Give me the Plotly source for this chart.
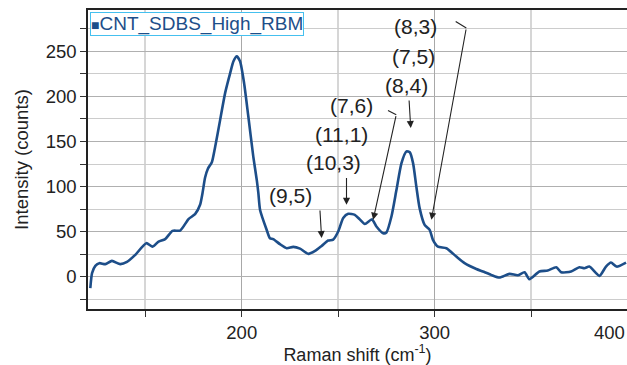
import plotly.graph_objects as go

# Raman spectrum (RBM region)
raman_shift = [121.5, 122.4, 124.1, 126.2, 129.3, 132.7, 137.0, 140.5, 144.8, 150.5,
               153.8, 156.9, 160.3, 164.1, 168.1, 172.4, 175.8, 178.4, 179.6, 181.0,
               182.5, 184.5, 186.2, 188.8, 191.4, 194.0, 195.7, 197.4, 199.1, 201.2,
               203.4, 206.0, 207.8, 208.6, 209.5, 212.9, 214.6, 216.3, 219.8, 223.3,
               226.7, 230.2, 234.5, 238.0, 241.4, 244.8, 247.4, 250.0, 252.6, 255.2,
               258.6, 261.2, 263.8, 267.5, 269.8, 273.3, 275.0, 277.6, 280.2, 282.8,
               285.4, 287.1, 288.8, 290.5, 292.2, 294.8, 297.4, 299.1, 301.7, 306.1,
               311.2, 315.5, 321.6, 325.0, 329.3, 333.6, 338.8, 343.1, 346.6, 349.1,
               354.3, 358.6, 363.0, 365.6, 370.7, 375.0, 377.6, 380.2, 385.4, 388.8,
               391.4, 394.3, 399.2]
intensity = [-12.9, 3.8, 11.9, 14.9, 13.8, 17.4, 13.8, 16.3, 24.1, 37.1,
             33.3, 38.9, 41.6, 50.8, 51.1, 63.8, 69.3, 79.7, 92.0, 110.0,
             120.0, 127.0, 144.0, 174.0, 204.0, 226.0, 239.0, 244.5, 239.0, 215.0,
             178.0, 133.0, 107.0, 93.0, 74.0, 52.0, 42.6, 41.6, 36.0, 31.5,
             33.0, 31.0, 25.2, 28.5, 34.0, 40.0, 41.0, 50.0, 65.0, 69.7,
             68.6, 63.5, 58.4, 63.5, 55.6, 48.2, 49.0, 66.7, 96.3, 126.0,
             139.0, 138.0, 126.0, 100.0, 76.0, 57.4, 51.9, 40.8, 33.3, 31.5,
             22.2, 14.9, 8.4, 5.6, 1.9, -1.1, 3.0, 1.5, 4.8, -2.9,
             5.6, 6.7, 10.4, 4.8, 5.6, 10.4, 9.3, 11.1, 0.8, 11.1,
             15.6, 11.1, 15.6]

series_name = "CNT_SDBS_High_RBM"

# (n,m) chirality labels: text position
labels = ["(9,5)", "(10,3)", "(11,1)", "(7,6)", "(8,4)", "(7,5)", "(8,3)"]
label_x = [225.5, 247.8, 251.9, 257.1, 285.5, 289.1, 290.2]
label_y = [89.7, 126.3, 157.4, 189.7, 211.9, 244.1, 277.4]

# arrows: tail (ax, ay) -> head (hx, hy)
arrow_ax = [240.5, 254.3, 280.1, 286.7, 316.4]
arrow_ay = [75.0, 111.0, 179.7, 197.1, 276.0]
arrow_hx = [241.4, 254.3, 268.1, 287.6, 298.3]
arrow_hy = [42.7, 79.7, 63.0, 164.9, 63.0]

# short leader hooks leading into the long arrows
hook_x0 = [275.8, 310.9]
hook_y0 = [184.4, 283.3]
hook_x1 = [280.1, 316.4]
hook_y1 = [179.7, 276.0]

# x tick labels; the last one sits flush with the right edge
x_ticks = [200, 300, 400]

LINE_COLOR = "#1d4e89"
TEXT_COLOR = "#222222"
FONT = "Liberation Sans, Arial, sans-serif"

fig = go.Figure()
fig.add_trace(go.Scatter(
    x=raman_shift, y=intensity, mode="lines", name=series_name,
    line=dict(color=LINE_COLOR, width=2.6, shape="spline", smoothing=0.6),
    showlegend=False,
))

annotations = []
for t, x, y in zip(labels, label_x, label_y):
    annotations.append(dict(x=x, y=y, xref="x", yref="y", text=t, showarrow=False,
                            font=dict(size=21, color=TEXT_COLOR, family=FONT)))
for ax, ay, hx, hy in zip(arrow_ax, arrow_ay, arrow_hx, arrow_hy):
    annotations.append(dict(x=hx, y=hy, xref="x", yref="y", ax=ax, ay=ay,
                            axref="x", ayref="y", text="", showarrow=True,
                            arrowhead=2, arrowsize=1.3, arrowwidth=1.1,
                            arrowcolor=TEXT_COLOR, standoff=0, startstandoff=0))

# right-most x tick label, kept inside the page
annotations.append(dict(x=1.0, y=0, xref="paper", yref="paper", xanchor="right",
                        yanchor="top", yshift=-11, showarrow=False,
                        text=str(x_ticks[-1]),
                        font=dict(size=18.5, color=TEXT_COLOR, family=FONT)))

# legend box
annotations.append(dict(x=0.004, y=0.993, xref="paper", yref="paper", xanchor="left",
                        yanchor="top", showarrow=False,
                        text="<span style='font-size:14px'>■</span>" + series_name,
                        font=dict(size=19, color=LINE_COLOR, family=FONT),
                        bordercolor="#45c0ef", borderwidth=1, borderpad=0,
                        bgcolor="white"))

shapes = []
for x0, y0, x1, y1 in zip(hook_x0, hook_y0, hook_x1, hook_y1):
    shapes.append(dict(type="line", xref="x", yref="y", x0=x0, y0=y0, x1=x1, y1=y1,
                       line=dict(color=TEXT_COLOR, width=1.1)))

fig.update_layout(
    width=627, height=365,
    margin=dict(l=88, r=0, t=10, b=56),
    plot_bgcolor="white", paper_bgcolor="white",
    font=dict(family=FONT, color=TEXT_COLOR, size=18),
    annotations=annotations, shapes=shapes,
    xaxis=dict(
        range=[120.3, 399.7], tickvals=x_ticks,
        showgrid=True, gridcolor="#a8a8a8", gridwidth=1,
        ticks="outside", ticklen=6, tickcolor="#333", tickwidth=1,
        minor=dict(tickvals=[150, 250, 350], showgrid=True, gridcolor="#d6d6d6",
                   gridwidth=1.5, ticks="outside", ticklen=6, tickcolor="#333"),
        showline=True, linecolor="#222", linewidth=1.5, mirror=True,
        zeroline=False,
        tickfont=dict(size=18.5),
        title=dict(text="Raman shift (cm<sup>-1</sup>)", font=dict(size=18), standoff=6),
    ),
    yaxis=dict(
        range=[-36, 296], tickvals=[0, 50, 100, 150, 200, 250],
        showgrid=True, gridcolor="#b0b0b0", gridwidth=1,
        ticks="outside", ticklen=6, tickcolor="#333", tickwidth=1,
        minor=dict(tickvals=[-25, 25, 75, 125, 175, 225, 275], showgrid=True,
                   gridcolor="#cccccc", gridwidth=1, ticks="outside", ticklen=6,
                   tickcolor="#333"),
        showline=True, linecolor="#222", linewidth=1.5,
        zeroline=False,
        tickfont=dict(size=18.5),
        title=dict(text="Intensity (counts)", font=dict(size=18.5), standoff=12),
    ),
)

fig.write_html("out.html")
